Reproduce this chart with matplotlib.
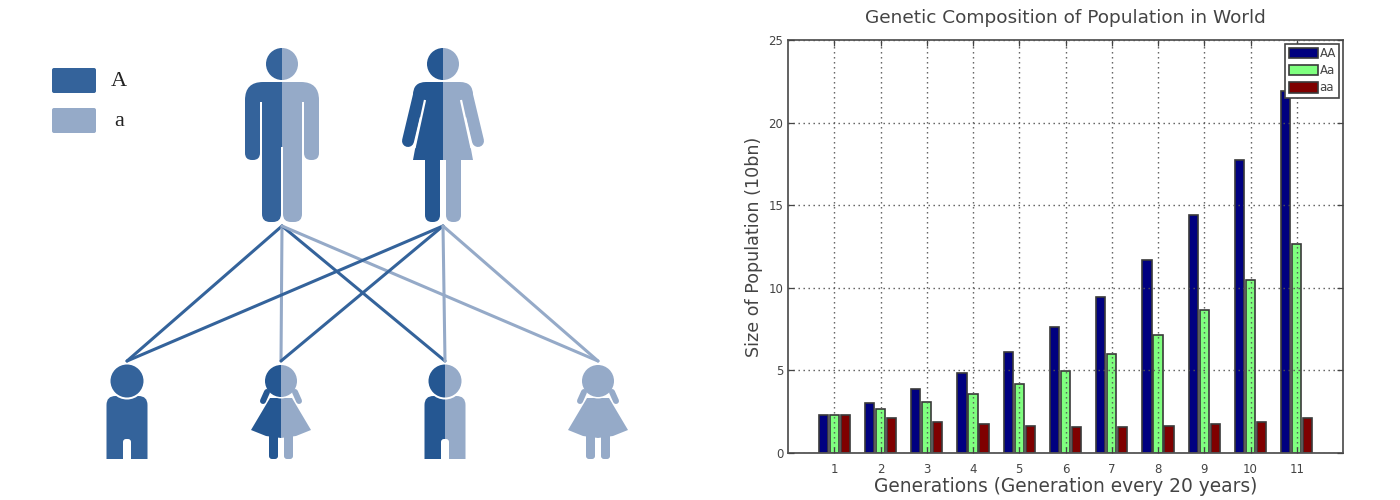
import numpy as np
import matplotlib
matplotlib.use('Agg')
import matplotlib.pyplot as plt
from matplotlib.patches import Rectangle, Circle, Polygon, FancyBboxPatch

# bar chart values
generations = [1, 2, 3, 4, 5, 6, 7, 8, 9, 10, 11]
AA = [2.33, 3.0, 3.85, 4.85, 6.1, 7.6, 9.45, 11.7, 14.4, 17.75, 21.9]
Aa = [2.33, 2.65, 3.1, 3.6, 4.2, 4.95, 6.0, 7.15, 8.65, 10.45, 12.65]
aa = [2.33, 2.1, 1.9, 1.75, 1.65, 1.6, 1.6, 1.65, 1.75, 1.9, 2.1]
series_names = ['AA', 'Aa', 'aa']
yticks = [0, 5, 10, 15, 20, 25]

# diagram
allele_names = ['A', 'a']
parent_x = [282, 443]
child_x = [127, 281, 445, 598]
# allele passed on by each parent to each child (d = A, l = a)
links = [['d', 'l', 'd', 'l'], ['d', 'd', 'l', 'l']]

DARK = '#34639b'
DARK2 = '#255792'
LIGHT = '#95aac8'
TXT = '#444444'

fig = plt.figure(figsize=(14, 5), dpi=100)

############## left picture, drawn in pixel coordinates
ov = fig.add_axes([0, 0, 1, 1])
ov.set_xlim(0, 1400)
ov.set_ylim(500, 0)
ov.axis('off')


def rbox(x0, y0, x1, y1, r):
    return FancyBboxPatch((x0, y0), x1 - x0, y1 - y0, boxstyle='round,pad=0,rounding_size=%g' % r,
                          linewidth=0)


def half(cx, side):
    # clip region for one half of a figure
    if side == 'left':
        return Rectangle((cx - 100, 0), 100, 500, transform=ov.transData)
    return Rectangle((cx, 0), 100, 500, transform=ov.transData)


def paint(parts, cx, left, right):
    # each part is drawn twice, clipped to the two halves
    for side, col in (('left', left), ('right', right)):
        for make in parts:
            p = make()
            if isinstance(p, plt.Line2D):
                p.set_color(col)
                ov.add_line(p)
            else:
                p.set_facecolor(col)
                ov.add_patch(p)
            p.set_clip_path(half(cx, side))


def stroke(xs, ys, w):
    return plt.Line2D(xs, ys, linewidth=w * 0.72, solid_capstyle='round')


def white_gap(xs, ys, w):
    ov.plot(xs, ys, color='white', linewidth=w * 0.72, solid_capstyle='butt')


def man(cx, left, right):
    parts = [
        lambda: Circle((cx, 64), 16, linewidth=0),
        lambda: rbox(cx - 37, 82, cx + 37, 130, 18),
        lambda: rbox(cx - 37, 95, cx - 22, 160, 7),
        lambda: rbox(cx + 22, 95, cx + 37, 160, 7),
        lambda: Rectangle((cx - 20, 90), 40, 70, linewidth=0),
        lambda: rbox(cx - 20, 130, cx - 1, 222, 8),
        lambda: rbox(cx + 1, 130, cx + 20, 222, 8),
    ]
    paint(parts, cx, left, right)
    for s in (-1, 1):
        ov.add_patch(Rectangle((cx + s * 21 - 1.2, 102), 2.4, 50, facecolor='white', linewidth=0))
    ov.add_patch(Rectangle((cx - 1, 147), 2, 80, facecolor='white', linewidth=0))


def woman(cx, left, right):
    parts = [
        lambda: Circle((cx, 64), 16, linewidth=0),
        lambda: rbox(cx - 30, 82, cx + 30, 118, 13),
        lambda: Polygon([(cx - 18, 95), (cx - 30, 160), (cx + 30, 160), (cx + 18, 95)], linewidth=0),
        lambda: stroke([cx - 24, cx - 35], [95, 141], 12),
        lambda: stroke([cx + 24, cx + 35], [95, 141], 12),
        lambda: rbox(cx - 18, 150, cx - 3, 222, 7),
        lambda: rbox(cx + 3, 150, cx + 18, 222, 7),
    ]
    paint(parts, cx, left, right)
    for s in (-1, 1):
        white_gap([cx + s * 18, cx + s * 28.5], [100, 148], 2.2)
    ov.add_patch(Rectangle((cx - 3, 160), 6, 65, facecolor='white', linewidth=0))


def boy(cx, left, right):
    parts = [lambda: rbox(cx - 20.5, 396, cx + 20.5, 490, 9)]
    paint(parts, cx, left, right)
    ov.add_patch(Rectangle((cx - 25, 459), 50, 35, facecolor='white', linewidth=0))
    ov.add_patch(rbox(cx - 4, 439, cx + 4, 465, 3))
    ov.patches[-1].set_facecolor('white')
    ov.add_patch(Circle((cx, 381), 18.5, facecolor='white', linewidth=0))
    paint([lambda: Circle((cx, 381), 16.5, linewidth=0)], cx, left, right)


def girl(cx, left, right):
    parts = [
        lambda: stroke([cx - 14, cx - 18], [392, 401], 6),
        lambda: stroke([cx + 14, cx + 18], [392, 401], 6),
        lambda: Polygon([(cx - 11, 398), (cx - 30, 430), (cx - 15, 436), (cx, 438), (cx + 15, 436),
                         (cx + 30, 430), (cx + 11, 398)], linewidth=0),
        lambda: rbox(cx - 12, 432, cx - 3, 459, 3),
        lambda: rbox(cx + 3, 432, cx + 12, 459, 3),
    ]
    paint(parts, cx, left, right)
    ov.add_patch(Circle((cx, 381), 17.5, facecolor='white', linewidth=0))
    paint([lambda: Circle((cx, 381), 16, linewidth=0)], cx, left, right)


for px, row in zip(parent_x, links):
    for cx, kind in zip(child_x, row):
        ov.plot([px, cx], [226, 361], color=DARK if kind == 'd' else LIGHT, linewidth=2.2,
                solid_capstyle='round')

man(parent_x[0], DARK, LIGHT)
woman(parent_x[1], DARK2, LIGHT)
boy(child_x[0], DARK, DARK)
girl(child_x[1], DARK2, LIGHT)
boy(child_x[2], DARK2, LIGHT)
girl(child_x[3], LIGHT, LIGHT)

for name, col, y0 in zip(allele_names, [DARK, LIGHT], [68, 108]):
    ov.add_patch(rbox(52, y0, 96, y0 + 25, 2))
    ov.patches[-1].set_facecolor(col)
    ov.text(119, y0 + 13, name, family='Liberation Serif', fontsize=16, color='#222222',
            ha='center', va='center')

############## bar chart
ax = fig.add_axes([788 / 1400, 47 / 500, 555 / 1400, 413 / 500])
x = np.array(generations)
w = 0.2
edge = '#3a3a3a'
ax.bar(x - 0.34, AA, w, align='edge', color='#000080', edgecolor=edge, linewidth=1.2, label=series_names[0])
ax.bar(x - 0.10, Aa, w, align='edge', color='#7fff7f', edgecolor=edge, linewidth=1.2, label=series_names[1])
ax.bar(x + 0.14, aa, w, align='edge', color='#7f0000', edgecolor=edge, linewidth=1.2, label=series_names[2])

ax.set_xlim(0, 12)
ax.set_ylim(0, 25)
ax.set_xticks(generations)
ax.set_yticks(yticks)
ax.grid(True, color='#555555', linestyle=(0, (1, 2.6)), linewidth=1.0)
ax.set_axisbelow(False)
ax.tick_params(direction='in', top=True, right=True, length=4, width=0.9, labelsize=8.5,
               labelcolor=TXT, color='#444444')
ax.tick_params(axis='x', pad=7)
for s in ax.spines.values():
    s.set_linewidth(1.3)
    s.set_color('#555555')

ax.set_title('Genetic Composition of Population in World', fontsize=13.3, color=TXT, pad=12)
ax.set_xlabel('Generations (Generation every 20 years)', fontsize=13.4, color=TXT, labelpad=1)
ax.set_ylabel('Size of Population (10bn)', fontsize=12.6, color=TXT, labelpad=4)

leg = ax.legend(loc='upper right', fontsize=8.5, fancybox=False, framealpha=1, edgecolor='#444444',
                borderpad=0.3, labelspacing=0.35, handlelength=2.45, handleheight=1.0, handletextpad=0.15,
                borderaxespad=0.3, labelcolor=TXT)
leg.get_frame().set_linewidth(1.2)
leg.set_zorder(10)

fig.savefig('out.png', dpi=100)
